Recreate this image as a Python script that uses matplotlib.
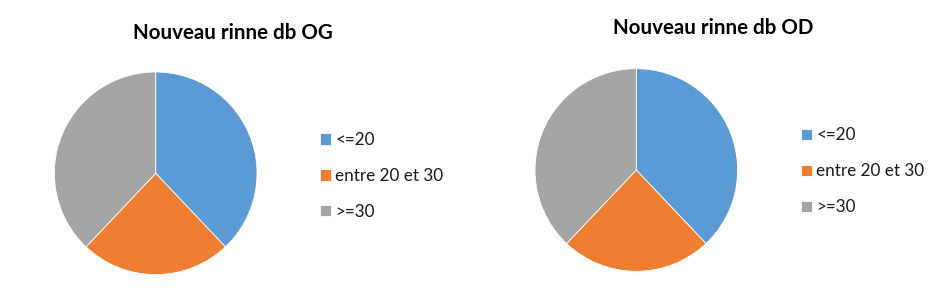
import matplotlib
matplotlib.use("Agg")
import matplotlib.pyplot as plt

categories = ["<=20", "entre 20 et 30", ">=30"]
values_og = [11, 7, 11]
values_od = [11, 7, 11]
titles = ["Nouveau rinne db OG", "Nouveau rinne db OD"]
colors = ["#5B9BD5", "#ED7D31", "#A5A5A5"]

plt.rcParams['font.family'] = ['Lato', 'DejaVu Sans']

W, H = 945, 298
fig = plt.figure(figsize=(W / 100, H / 100), dpi=100)

def add_pie(cx, cy, r, vals, title, tx, ty, lx, ly):
    ax = fig.add_axes([(cx - r) / W, 1 - (cy + r) / H, 2 * r / W, 2 * r / H])
    wedges, _ = ax.pie(vals, colors=colors, startangle=90, counterclock=False,
                       radius=1, wedgeprops=dict(edgecolor="white", linewidth=0.6))
    ax.set_xlim(-1, 1)
    ax.set_ylim(-1, 1)
    ax.set_aspect("equal")
    ax.axis("off")
    fig.text(tx / W, 1 - ty / H, title, ha="center", va="center",
             fontsize=14.8, fontweight="bold", color="#000000")
    fig.legend(wedges, categories, loc="upper left",
               bbox_to_anchor=(lx / W, 1 - ly / H), frameon=False,
               fontsize=12.3, handlelength=0.62, handleheight=0.62,
               handletextpad=0.28, labelspacing=1.17, borderpad=0,
               borderaxespad=0, labelcolor="#1a1a1a")

add_pie(155.7, 173.3, 101.3, values_og, titles[0], 233.3, 33, 320, 132)
add_pie(636.3, 170.0, 101.3, values_od, titles[1], 713.3, 28, 801, 127.5)

fig.savefig("out.png", dpi=100)
